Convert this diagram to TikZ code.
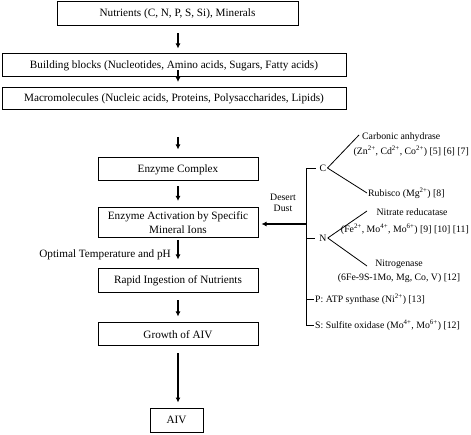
\documentclass[tikz,border=0pt]{standalone}
\usepackage{fontspec}
\setmainfont{Liberation Serif}
\usetikzlibrary{arrows.meta,positioning}

\begin{document}
\begin{tikzpicture}[
  x=1pt,y=-1pt,
  box/.style={draw,line width=1pt,inner sep=2pt,align=center,
    font=\fontsize{11.2}{14}\selectfont},
  lab/.style={inner sep=1pt,font=\fontsize{11.2}{14}\selectfont},
  side/.style={inner sep=1pt,align=center,font=\fontsize{9.8}{11}\selectfont},
  arr/.style={-{Latex[length=5pt,width=5pt]},line width=1.1pt},
  ln/.style={line width=0.8pt}]
\useasboundingbox (0,0) rectangle (471,435);
% main chain
\node[box,minimum width=241pt,minimum height=24pt] (nut) at (177.5,14) {Nutrients (C, N, P, S, Si), Minerals};
\node[box,minimum width=344pt,minimum height=23pt] (bb) at (174,65.5) {Building blocks (Nucleotides, Amino acids, Sugars, Fatty acids)};
\node[box,minimum width=344pt,minimum height=22pt] (mm) at (174,98.5) {Macromolecules (Nucleic acids, Proteins, Polysaccharides, Lipids)};
\node[box,minimum width=160pt,minimum height=23pt] (ec) at (178,169.5) {Enzyme Complex};
\node[box,minimum width=160pt,minimum height=30pt] (ea) at (178,222.5) {Enzyme Activation by Specific\\Mineral Ions};
\node[box,minimum width=160pt,minimum height=24pt] (ri) at (178,281) {Rapid Ingestion of Nutrients};
\node[box,minimum width=160pt,minimum height=23pt] (gr) at (178,334.5) {Growth of AIV};
\node[box,minimum width=53pt,minimum height=24pt] (aiv) at (176.5,420) {AIV};
\node[lab,anchor=east] (opt) at (172,255) {Optimal Temperature and pH};
\draw[arr,shorten <=7pt,shorten >=5pt] (nut.south -| ec) -- (bb.north -| ec);
\draw[arr,shorten <=7pt,shorten >=5pt] (bb.south -| ec) -- (mm.north -| ec);
\draw[arr,shorten <=27pt,shorten >=8pt] (mm.south -| ec) -- (ec.north);
\draw[arr,shorten <=5pt,shorten >=6pt] (ec) -- (ea);
\draw[arr,shorten <=2pt,shorten >=9pt] (ea) -- (ri);
\draw[arr,shorten <=7pt,shorten >=6pt] (ri) -- (gr);
\draw[arr,shorten <=7pt,shorten >=5pt] (gr.south -| ec) -- (aiv.north -| ec);
% desert dust branch
\node[side] (C) at (323,168) {C};
\node[side] (N) at (323,238) {N};
\node[side,anchor=west] (ca) at (361,137) {Carbonic anhydrase};
\node[side,anchor=east] (caion) at (470,151) {(Zn\textsuperscript{2+}, Cd\textsuperscript{2+}, Co\textsuperscript{2+}) [5] [6] [7]};
\node[side,anchor=west] (rub) at (367,193) {Rubisco (Mg\textsuperscript{2+}) [8]};
\node[side] (nr) at (412,212) {Nitrate reducatase};
\node[side,anchor=east] (nrion) at (470,229) {(Fe\textsuperscript{2+}, Mo\textsuperscript{4+}, Mo\textsuperscript{6+}) [9] [10] [11]};
\node[side] (ng) at (399,264) {Nitrogenase};
\node[side] (ngion) at (399,278) {(6Fe-9S-1Mo, Mg, Co, V) [12]};
\node[side,anchor=west] (P) at (314,299) {P: ATP synthase (Ni\textsuperscript{2+}) [13]};
\node[side,anchor=west] (S) at (314,325) {S: Sulfite oxidase (Mo\textsuperscript{4+}, Mo\textsuperscript{6+}) [12]};
\node[side] (dust) at (283,203) {Desert\\Dust};
\coordinate (btop) at (306,168);
\coordinate (dd) at (306,224);
\coordinate (caend) at (359,135);
\coordinate (nrend) at (367,211);
\coordinate (ngend) at (367,266);
\draw[ln] ([xshift=-3pt]C.west) -- (btop) -- (btop |- S.west) -- (S.west);
\draw[ln] (btop |- N.west) -- ([xshift=-3pt]N.west);
\draw[ln] (btop |- P.west) -- (P.west);
\draw[ln] (C.east) -- (caend);
\draw[ln] (C.east) -- (rub.west);
\draw[ln] (N.east) -- (nrend);
\draw[ln] (N.east) -- (ngend);
\draw[arr,shorten >=3pt] (dd) -- (ea.east |- dd);
\end{tikzpicture}
\end{document}
